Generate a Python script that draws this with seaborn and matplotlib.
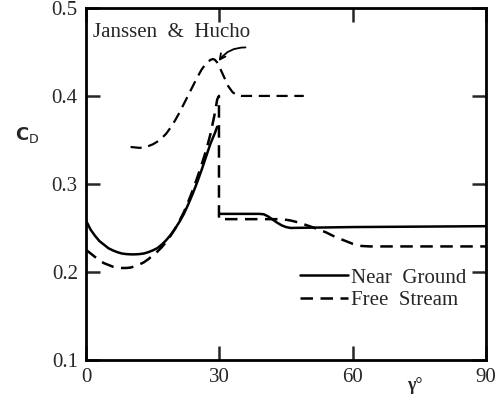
import numpy as np
import pandas as pd
import matplotlib
matplotlib.use('Agg')
import matplotlib.pyplot as plt
import seaborn as sns

sns.set_style('ticks')
plt.rcParams['font.family'] = ['Liberation Serif', 'DejaVu Serif']

# Near Ground (solid)
ng_x = [0, 1, 2, 3, 4, 5, 6, 7, 8, 9, 10, 11, 12, 13, 14, 15, 16, 17, 18, 19,
        20, 21, 22, 23, 24, 25, 26, 27, 28, 29, 29.5,
        np.nan, 30, 39, 40, 41, 42, 43, 44, 45, 46, 60, 90]
ng_y = [0.258, 0.248, 0.241, 0.235, 0.231, 0.227, 0.2245, 0.2225, 0.221, 0.2203,
        0.220, 0.220, 0.2203, 0.221, 0.2225, 0.2245, 0.227, 0.231, 0.236, 0.242,
        0.249, 0.257, 0.266, 0.277, 0.289, 0.302, 0.316, 0.331, 0.346, 0.358, 0.365,
        np.nan, 0.266, 0.266, 0.2655, 0.263, 0.2595, 0.256, 0.253, 0.251, 0.250,
        0.251, 0.252]

# Free Stream (dashed)
fs_x = [0, 1, 2, 3, 4, 5, 6, 7, 8, 9, 10, 11, 12, 13, 14, 15, 16, 17, 18, 19,
        20, 21, 22, 23, 24, 25, 26, 27, 28, 29, 29.5, 29.9,
        29.9, 44, 46, 48, 50, 52, 54, 56, 58, 60, 62, 64, 90]
fs_y = [0.225, 0.221, 0.217, 0.213, 0.210, 0.208, 0.206, 0.205, 0.2045, 0.2045,
        0.205, 0.2065, 0.2085, 0.211, 0.2145, 0.219, 0.223, 0.228, 0.234, 0.241,
        0.249, 0.258, 0.268, 0.280, 0.293, 0.307, 0.322, 0.338, 0.357, 0.381,
        0.396, 0.400,
        0.260, 0.260, 0.2585, 0.256, 0.2525, 0.249, 0.245, 0.240, 0.236, 0.232,
        0.2295, 0.229, 0.229]

# Janssen & Hucho (dashed, upper)
jh_x = [10, 11, 12, 13, 14, 15, 16, 17, 18, 19, 20, 21, 22, 23, 24, 25, 26, 27,
        28, 28.5, 29, 29.5, 30, 31, 32, 33, 34, 35, 49]
jh_y = [0.342, 0.3415, 0.341, 0.3415, 0.343, 0.345, 0.348, 0.352, 0.357, 0.364,
        0.372, 0.381, 0.391, 0.401, 0.411, 0.421, 0.430, 0.437, 0.441, 0.442,
        0.441, 0.438, 0.433, 0.422, 0.411, 0.404, 0.401, 0.400, 0.400]

x_ticks = [0, 30, 60, 90]
y_ticks = [0.1, 0.2, 0.3, 0.4, 0.5]
y_labels = ['0.1', '0.2', '0.3', '0.4', '0.5']

fig = plt.figure(figsize=(5.04, 3.96), dpi=100)
ax = fig.add_axes([0.171, 0.091, 0.793, 0.889])

ng = pd.DataFrame({'x': ng_x, 'y': ng_y})
fs = pd.DataFrame({'x': fs_x, 'y': fs_y})
jh = pd.DataFrame({'x': jh_x, 'y': jh_y})

ax.plot(ng['x'], ng['y'], color='black', lw=1.8, label='Near  Ground')
ax.plot(fs['x'], fs['y'], color='black', lw=1.8, ls=(0, (5, 3)), label='Free  Stream')
ax.plot(jh['x'], jh['y'], color='black', lw=1.6, ls=(0, (5, 3)))

ax.annotate('', xy=(29.5, 0.437), xytext=(36.5, 0.455),
            arrowprops=dict(arrowstyle='->', color='black', lw=1.3,
                            connectionstyle='arc3,rad=0.3'))
ax.text(1.5, 0.472, 'Janssen  &  Hucho', fontsize=15, va='center')

ax.set_xlim(0, 90)
ax.set_ylim(0.1, 0.5)
ax.set_xticks(x_ticks)
ax.set_yticks(y_ticks)
ax.set_yticklabels(y_labels)
ax.tick_params(direction='in', length=10, width=1.8, top=True, right=True,
               labelsize=15, pad=6)
for s in ax.spines.values():
    s.set_linewidth(2)
    s.set_color('black')

fig.text(27 / 504, 1 - 135 / 396, r'C$_\mathrm{D}$', fontsize=13,
         family='DejaVu Sans', fontweight='bold', ha='center', va='center')
fig.text(415 / 504, 1 - 386 / 396, 'γ°', fontsize=13,
         fontweight='bold', ha='center', va='center')

ax.legend(loc='upper left', bbox_to_anchor=(300 / 504, 1 - 268 / 396),
          bbox_transform=fig.transFigure, frameon=False, borderpad=0,
          borderaxespad=0, fontsize=15, handlelength=2.3, handletextpad=0.15,
          labelspacing=0.15)

fig.savefig('out.png', dpi=100)
